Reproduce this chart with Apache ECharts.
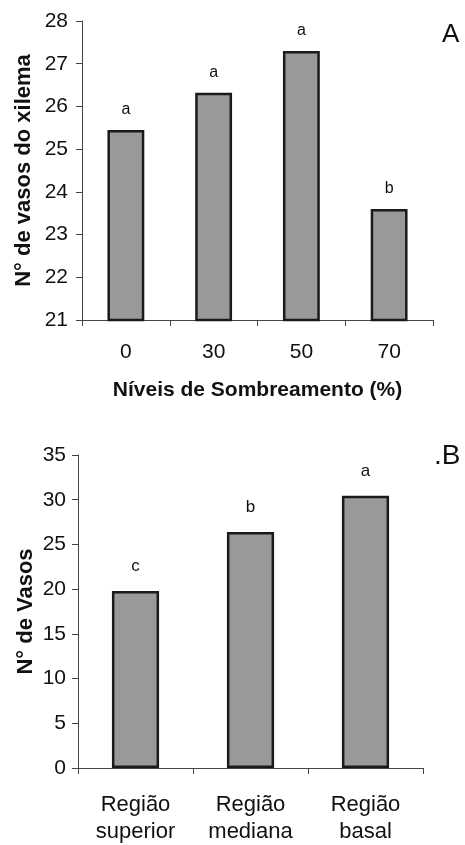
<!DOCTYPE html>
<html><head><meta charset="utf-8">
<script src="https://cdn.jsdelivr.net/npm/echarts@6/dist/echarts.min.js"></script>
<style>html,body{margin:0;padding:0;background:#fff}#c{width:465px;height:845px}</style>
</head><body><div id="c"></div>
<script>
const catsA = ['0', '30', '50', '70'];
const valsA = [25.45, 26.32, 27.3, 23.6];
const lettersA = ['a', 'a', 'a', 'b'];
const ticksA = { min: 21, max: 28, interval: 1 };

const catsB = ['Região\nsuperior', 'Região\nmediana', 'Região\nbasal'];
const valsB = [19.8, 26.4, 30.45];
const lettersB = ['c', 'b', 'a'];
const ticksB = { min: 0, max: 35, interval: 5 };

const FONT = 'Liberation Sans, Arial, sans-serif';
const axisLine = { show: true, lineStyle: { color: '#444', width: 1 } };
const tick = { show: true, length: 6, lineStyle: { color: '#444' } };
const barStyle = { color: '#999999', borderColor: '#1a1a1a', borderWidth: 2.5 };

const chart = echarts.init(document.getElementById('c'));
chart.setOption({
  backgroundColor: '#fff',
  animation: false,
  textStyle: { fontFamily: FONT },
  grid: [
    { left: 82, top: 21, right: 32, bottom: 525 },
    { left: 78, top: 455, right: 42, bottom: 74 }
  ],
  xAxis: [
    { gridIndex: 0, type: 'category', data: catsA, axisLine, axisTick: tick,
      axisLabel: { color: '#111', fontSize: 21, margin: 22, fontFamily: FONT },
      name: 'Níveis de Sombreamento (%)', nameLocation: 'middle', nameGap: 60,
      nameTextStyle: { color: '#111', fontSize: 21, fontWeight: 'bold', fontFamily: FONT } },
    { gridIndex: 1, type: 'category', data: catsB, axisLine, axisTick: tick,
      axisLabel: { color: '#111', fontSize: 22, margin: 23, lineHeight: 27, fontFamily: FONT } }
  ],
  yAxis: [
    { gridIndex: 0, type: 'value', min: ticksA.min, max: ticksA.max, interval: ticksA.interval,
      axisLine, axisTick: tick, splitLine: { show: false },
      axisLabel: { color: '#111', fontSize: 21, margin: 14, fontFamily: FONT },
      name: 'N° de vasos do xilema', nameLocation: 'middle', nameGap: 47, nameMoveOverlap: false,
      nameTextStyle: { color: '#111', fontSize: 22, fontWeight: 'bold', fontFamily: FONT } },
    { gridIndex: 1, type: 'value', min: ticksB.min, max: ticksB.max, interval: ticksB.interval,
      axisLine, axisTick: tick, splitLine: { show: false },
      axisLabel: { color: '#111', fontSize: 21, margin: 12, fontFamily: FONT },
      name: 'N° de Vasos', nameLocation: 'middle', nameGap: 41, nameMoveOverlap: false,
      nameTextStyle: { color: '#111', fontSize: 22, fontWeight: 'bold', fontFamily: FONT } }
  ],
  series: [
    { type: 'bar', xAxisIndex: 0, yAxisIndex: 0, data: valsA, barWidth: '42%', itemStyle: barStyle,
      label: { show: true, position: 'top', distance: 12, color: '#111', fontSize: 16, fontFamily: FONT,
        formatter: p => lettersA[p.dataIndex] } },
    { type: 'bar', xAxisIndex: 1, yAxisIndex: 1, data: valsB, barWidth: '41%', itemStyle: barStyle,
      label: { show: true, position: 'top', distance: 16, color: '#111', fontSize: 17, fontFamily: FONT,
        formatter: p => lettersB[p.dataIndex] } }
  ],
  graphic: [
    { type: 'text', left: 442, top: 22, style: { text: 'A', fontSize: 26, fill: '#111', fontFamily: FONT } },
    { type: 'text', left: 434, top: 442, style: { text: '.B', fontSize: 28, fill: '#111', fontFamily: FONT } }
  ]
});
</script></body></html>
